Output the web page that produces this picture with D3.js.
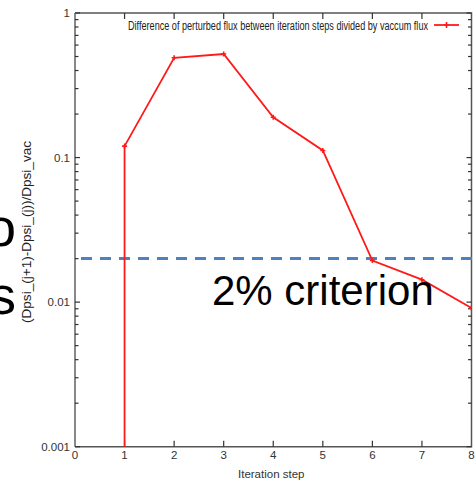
<!DOCTYPE html>
<html>
<head>
<meta charset="utf-8">
<script src="https://cdn.jsdelivr.net/npm/d3@7"></script>
<style>
  body { margin: 0; background: #fff; }
  svg { display: block; }
  .narrow { font-family: "Liberation Sans Narrow", "Arial Narrow", "Liberation Sans", Arial, sans-serif; }
</style>
</head>
<body>
<div class="chart"></div>
<script>
"use strict"

// data
const steps = [1, 1, 2, 3, 4, 5, 6, 7, 8];
const fluxDiff = [0.00005, 0.12, 0.49, 0.52, 0.19, 0.112, 0.0194, 0.0143, 0.0091];
const xTicks = [0, 1, 2, 3, 4, 5, 6, 7, 8];
const yTicks = [1, 0.1, 0.01, 0.001];
const yTickLabels = ["1", "0.1", "0.01", "0.001"];
const criterion = 0.02;

const width = 476,
    height = 486;
const plotLeft = 75, plotRight = 471.5, plotTop = 13, plotBottom = 446.7;

const svg = d3.select("div.chart").append("svg")
    .attr("width", width)
    .attr("height", height);

const scaleX = d3.scaleLinear()
    .domain([0, 8])
    .range([plotLeft, plotRight]);

const scaleY = d3.scaleLog()
    .domain([0.001, 1])
    .range([plotBottom, plotTop]);

svg.append("clipPath")
    .attr("id", "plot-clip")
    .append("rect")
    .attr("x", plotLeft)
    .attr("y", plotTop)
    .attr("width", plotRight - plotLeft)
    .attr("height", plotBottom - plotTop);

// minor log ticks (left and right)
const minor = [];
for (let e = -3; e < 0; e++) {
    for (let k = 2; k <= 9; k++) minor.push(k * Math.pow(10, e));
}

const axisColor = "#555";

// left axis
const yLeft = d3.axisLeft(scaleY).tickValues(yTicks).tickSize(0).tickFormat((d, i) => yTickLabels[i]);
const gLeft = svg.append("g")
    .attr("transform", "translate(" + plotLeft + ",0)")
    .call(yLeft);
gLeft.select(".domain").remove();
gLeft.selectAll(".tick text")
    .attr("class", "narrow")
    .attr("x", -5)
    .style("font-size", "11.5px")
    .attr("fill", "#333");

// frame
svg.append("path")
    .attr("d", "M" + plotLeft + "," + plotTop + "H" + plotRight + "V" + plotBottom + "H" + plotLeft)
    .attr("fill", "none")
    .attr("stroke", axisColor)
    .attr("stroke-width", 1.5);
svg.append("line")
    .attr("x1", plotLeft).attr("x2", plotLeft)
    .attr("y1", plotTop).attr("y2", plotBottom)
    .attr("stroke", "#888")
    .attr("stroke-width", 2);

// y ticks inward on both sides
[[plotLeft, 1], [plotRight, -1]].forEach(([x0, dir]) => {
    svg.append("g").selectAll("line")
        .data(minor)
        .join("line")
        .attr("x1", x0)
        .attr("x2", x0 + dir * 3.5)
        .attr("y1", d => scaleY(d))
        .attr("y2", d => scaleY(d))
        .attr("stroke", "#333")
        .attr("stroke-width", 1.2);
    svg.append("g").selectAll("line")
        .data(yTicks)
        .join("line")
        .attr("x1", x0)
        .attr("x2", x0 + dir * 5)
        .attr("y1", d => scaleY(d))
        .attr("y2", d => scaleY(d))
        .attr("stroke", "#333")
        .attr("stroke-width", 1.2);
});

// x ticks inward top and bottom
[[plotBottom, -1], [plotTop, 1]].forEach(([y0, dir]) => {
    svg.append("g").selectAll("line")
        .data(xTicks.slice(1, -1))
        .join("line")
        .attr("x1", d => scaleX(d))
        .attr("x2", d => scaleX(d))
        .attr("y1", y0)
        .attr("y2", y0 + dir * 6)
        .attr("stroke", "#333")
        .attr("stroke-width", 1.2);
});

// x tick labels
svg.append("g").selectAll("text")
    .data(xTicks)
    .join("text")
    .attr("class", "narrow")
    .attr("x", d => scaleX(d))
    .attr("y", 459)
    .attr("text-anchor", "middle")
    .style("font-size", "11.5px")
    .attr("fill", "#333")
    .text(d => d);

svg.append("text")
    .attr("class", "narrow")
    .attr("x", (plotLeft + plotRight) / 2 - 2)
    .attr("y", 478)
    .attr("text-anchor", "middle")
    .style("font-size", "11.5px")
    .attr("fill", "#333")
    .text("Iteration step");

// y label
svg.append("text")
    .attr("transform", "translate(31,232) rotate(-90)")
    .attr("text-anchor", "middle")
    .style("font-family", "'Liberation Sans', Arial, sans-serif")
    .style("font-size", "12.5px")
    .attr("textLength", 182)
    .attr("lengthAdjust", "spacingAndGlyphs")
    .attr("fill", "#222")
    .text("(Dpsi_(j+1)-Dpsi_(j))/Dpsi_vac");

// criterion dashed line
svg.append("line")
    .attr("x1", 81)
    .attr("x2", width)
    .attr("y1", scaleY(criterion))
    .attr("y2", scaleY(criterion))
    .attr("stroke", "#4f81bd")
    .attr("stroke-width", 3)
    .attr("stroke-dasharray", "11,8");

// data line
const pts = steps.map((s, i) => [s, fluxDiff[i]]);
const line = d3.line()
    .x(d => scaleX(d[0]))
    .y(d => scaleY(d[1]));

const plot = svg.append("g").attr("clip-path", "url(#plot-clip)");
plot.append("path")
    .datum(pts)
    .attr("d", line)
    .attr("fill", "none")
    .attr("stroke", "#ff1a1a")
    .attr("stroke-width", 1.8);

plot.selectAll("path.mark")
    .data(pts)
    .join("path")
    .attr("class", "mark")
    .attr("d", "M-2.5,0H2.5M0,-2.5V2.5")
    .attr("transform", d => "translate(" + scaleX(d[0]) + "," + scaleY(d[1]) + ")")
    .attr("stroke", "#ff1a1a")
    .attr("stroke-width", 1.6);

// legend
svg.append("text")
    .attr("class", "narrow")
    .attr("x", 428)
    .attr("y", 30)
    .attr("text-anchor", "end")
    .style("font-size", "12px")
    .attr("textLength", 300)
    .attr("lengthAdjust", "spacingAndGlyphs")
    .attr("fill", "#222")
    .text("Difference of perturbed flux between iteration steps divided by vaccum flux");
svg.append("line")
    .attr("x1", 434).attr("x2", 459)
    .attr("y1", 25).attr("y2", 25)
    .attr("stroke", "#ff1a1a")
    .attr("stroke-width", 1.8);
svg.append("path")
    .attr("d", "M-2.5,0H2.5M0,-3V3")
    .attr("transform", "translate(446.5,25)")
    .attr("stroke", "#ff1a1a")
    .attr("stroke-width", 1.6);

// slide overlay text
svg.append("text")
    .attr("x", 212)
    .attr("y", 305)
    .style("font-family", "'Liberation Sans', Arial, sans-serif")
    .style("font-size", "42px")
    .attr("fill", "#000")
    .text("2% criterion");

svg.append("text")
    .attr("x", 16)
    .attr("y", 246)
    .attr("text-anchor", "end")
    .style("font-family", "'Liberation Sans', Arial, sans-serif")
    .style("font-size", "54px")
    .attr("fill", "#000")
    .text("o");
svg.append("text")
    .attr("x", 16)
    .attr("y", 314)
    .attr("text-anchor", "end")
    .style("font-family", "'Liberation Sans', Arial, sans-serif")
    .style("font-size", "54px")
    .attr("fill", "#000")
    .text("s");
</script>
</body>
</html>
